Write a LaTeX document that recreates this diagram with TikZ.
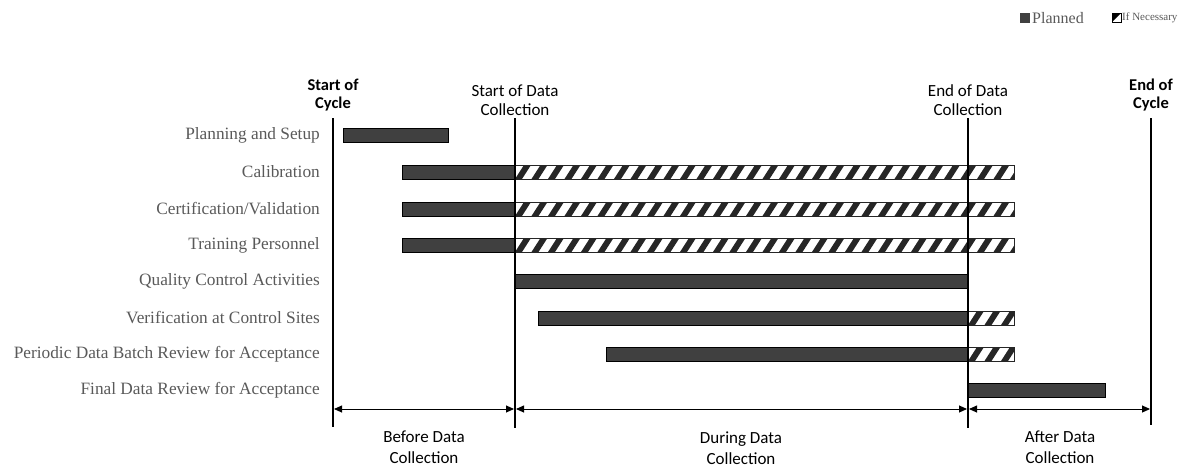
\documentclass[tikz,border=0pt]{standalone}
\usepackage{fontspec}
\setmainfont{Liberation Serif}
\newfontfamily\calfont{Carlito}
\usetikzlibrary{arrows.meta}
\definecolor{bardark}{HTML}{404040}
\definecolor{txtgray}{HTML}{595959}
\tikzset{
  rowlabel/.style={anchor=east, inner sep=0pt, text=txtgray, font=\fontsize{17.3}{19}\selectfont},
  milestone/.style={align=center, inner sep=0pt, font=\calfont\fontsize{17}{19}\selectfont},
  boldmilestone/.style={align=center, inner sep=0pt, font=\calfont\bfseries\fontsize{16.5}{18.5}\selectfont},
  phaselabel/.style={align=center, inner sep=0pt, font=\calfont\fontsize{17}{20.5}\selectfont},
  vline/.style={line width=1.6pt},
  vlinethick/.style={line width=2.2pt},
  dimarrow/.style={line width=0.9pt, {Triangle[length=8pt,width=7pt]}-{Triangle[length=8pt,width=7pt]}},
  planned/.style={fill=bardark, draw=black, line width=0.9pt},
  hatchframe/.style={draw=black!85, line width=0.9pt},
  legendtext/.style={anchor=west, inner sep=0pt, text=txtgray},
}
\newcommand{\hatchbar}[3]{% x1, x2, ycenter
  \begin{scope}
    \clip (#1,#3-7) rectangle (#2,#3+7);
    \fill[white] (#1,#3-7) rectangle (#2,#3+7);
    \pgfmathtruncatemacro\hn{(#2-#1)/16.5+1}
    \foreach \hi in {0,...,\hn} {
      \pgfmathsetmacro\hx{#1+16.5*\hi}
      \fill[black!85] (\hx,#3+7) -- (\hx+7,#3+7) -- (\hx+16,#3-7) -- (\hx+9,#3-7) -- cycle;
    }
  \end{scope}
  \draw[hatchframe] (#1,#3-7) rectangle (#2,#3+7);
}
\begin{document}
\begin{tikzpicture}[x=1pt,y=-1pt]
\useasboundingbox (0,0) rectangle (1182,466);

% legend
\fill[bardark] (1020,13) rectangle (1030,23);
\node[legendtext, font=\fontsize{16}{18}\selectfont] (lgp) at (1032,18) {Planned};
\draw[black, line width=0.8pt, fill=white] (1112,13) rectangle (1121,22);
\fill[black] (1112,13) -- (1121,13) -- (1112,22) -- cycle;
\node[legendtext, font=\fontsize{11}{12}\selectfont] (lgn) at (1122,18) {If Necessary};

% milestones
\node[boldmilestone] (msc) at (333,95) {Start of\\Cycle};
\node[milestone] (msd) at (515,100) {Start of Data\\Collection};
\node[milestone] (med) at (968,100) {End of Data\\Collection};
\node[boldmilestone] (mec) at (1151,95) {End of\\Cycle};

\coordinate (sct) at (333,118); \coordinate (scb) at (333,427);
\coordinate (sdt) at (515,118); \coordinate (sdb) at (515,428);
\coordinate (edt) at (968,118); \coordinate (edb) at (968,428);
\coordinate (ect) at (1151,118); \coordinate (ecb) at (1151,425);

% row labels
\node[rowlabel] (r1) at (320,135) {Planning and Setup};
\node[rowlabel] (r2) at (320,172) {Calibration};
\node[rowlabel] (r3) at (320,209) {Certification/Validation};
\node[rowlabel] (r4) at (320,245) {Training Personnel};
\node[rowlabel] (r5) at (320,281) {Quality Control Activities};
\node[rowlabel] (r6) at (320,318) {Verification at Control Sites};
\node[rowlabel] (r7) at (320,354) {Periodic Data Batch Review for Acceptance};
\node[rowlabel] (r8) at (320,390) {Final Data Review for Acceptance};

% bars
\draw[planned] (343,128) rectangle (448,142);
\foreach \yy in {172,209,245} {
  \hatchbar{515}{1014}{\yy}
  \draw[planned] (402,\yy-7) rectangle (515,\yy+7);
}
\draw[planned] (515,274) rectangle (968,288);
\hatchbar{968}{1014}{318}
\draw[planned] (538,311) rectangle (968,325);
\hatchbar{968}{1014}{354}
\draw[planned] (606,347) rectangle (968,361);
\draw[planned] (968,383) rectangle (1105,397);

% vertical lines
\draw[vlinethick] (sct) -- (scb);
\draw[vline] (sdt) -- (sdb);
\draw[vline] (edt) -- (edb);
\draw[vlinethick] (ect) -- (ecb);

% phase arrows
\coordinate (a1) at (334,409); \coordinate (a2) at (514,409);
\coordinate (a3) at (516,409); \coordinate (a4) at (967,409);
\coordinate (a5) at (969,409); \coordinate (a6) at (1150,409);
\draw[dimarrow] (a1) -- (a2);
\draw[dimarrow] (a3) -- (a4);
\draw[dimarrow] (a5) -- (a6);

\node[phaselabel] (p1) at (424,447) {Before Data\\Collection};
\node[phaselabel] (p2) at (741,448) {During Data\\Collection};
\node[phaselabel] (p3) at (1060,447) {After Data\\Collection};
\end{tikzpicture}
\end{document}
